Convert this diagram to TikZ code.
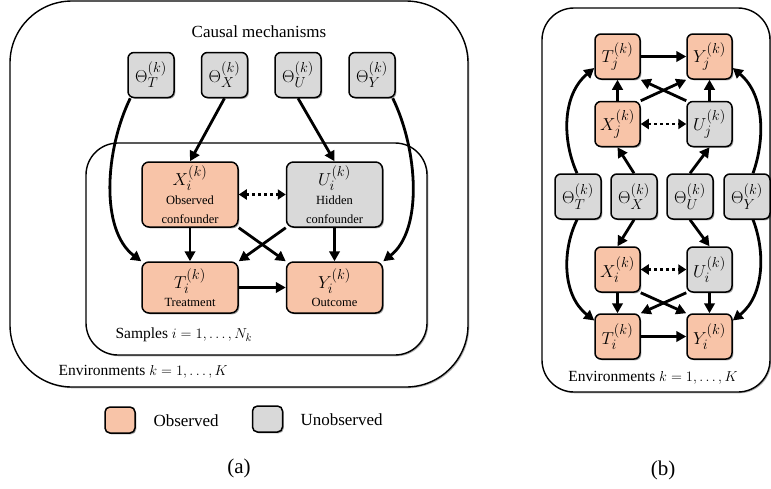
\documentclass[tikz,border=0pt]{standalone}
\usepackage{fontspec}
\setmainfont{Liberation Serif}
\usetikzlibrary{arrows.meta,shadows}
\definecolor{obsc}{RGB}{248,196,168}
\definecolor{unobc}{RGB}{217,217,217}
\newcommand{\smallf}{\fontsize{12.5}{14}\selectfont}
\begin{document}
\begin{tikzpicture}[x=1pt,y=-1pt,
 box/.style={draw=black, line width=1.5pt, rounded corners=7pt, inner sep=0pt, align=center,
   font=\fontsize{19}{21}\selectfont,
   drop shadow={shadow xshift=1.3pt, shadow yshift=-1.3pt, opacity=0.35, fill=black}},
 obs/.style={box, fill=obsc},
 unob/.style={box, fill=unobc},
 bigbox/.style={minimum width=96pt, minimum height=65pt},
 midbox/.style={minimum width=96pt, minimum height=51pt},
 smbox/.style={minimum width=46pt, minimum height=45pt, rounded corners=6pt},
 legbox/.style={minimum width=30pt, minimum height=26pt, rounded corners=5pt},
 arr/.style={line width=2.8pt, -{Triangle[length=10pt,width=10.5pt]}},
 darr/.style={line width=2.8pt, dash pattern=on 3pt off 3pt,
   {Triangle[length=8pt,width=10pt]}-{Triangle[length=8pt,width=10pt]}},
 frame/.style={draw, line width=1.4pt, fill=white,
   drop shadow={shadow xshift=1.3pt, shadow yshift=-1.3pt, opacity=0.3, fill=black}},
 lbl/.style={font=\fontsize{17}{20}\selectfont},
 envlbl/.style={font=\fontsize{15.5}{18}\selectfont},
 caplbl/.style={font=\fontsize{21}{24}\selectfont},
]
\useasboundingbox (0,0) rectangle (771,488);

% ---------------- panel (a) ----------------
\path[frame, rounded corners=62pt] (10,1) rectangle (468,387);
\path[frame, rounded corners=32pt] (86,143) rectangle (427,355);

\node[lbl] (cm) at (259,32) {Causal mechanisms};

\node[unob,smbox] (thT) at (151,75) {$\Theta_T^{(k)}$};
\node[unob,smbox] (thX) at (224.5,75) {$\Theta_X^{(k)}$};
\node[unob,smbox] (thU) at (298,75) {$\Theta_U^{(k)}$};
\node[unob,smbox] (thY) at (372,75) {$\Theta_Y^{(k)}$};

\node[obs,bigbox] (X) at (190,194.5) {$X_i^{(k)}$\\[-2pt]\smallf Observed\\[-2pt]\smallf confounder};
\node[unob,bigbox] (U) at (334.5,194.5) {$U_i^{(k)}$\\[-2pt]\smallf Hidden\\[-2pt]\smallf confounder};
\node[obs,midbox] (T) at (190,287.5) {$T_i^{(k)}$\\[-3pt]\smallf Treatment};
\node[obs,midbox] (Y) at (334.5,287.5) {$Y_i^{(k)}$\\[-3pt]\smallf Outcome};

\node[envlbl, anchor=west] (samp) at (112,335) {Samples $i=1,\dots,N_k$};
\node[envlbl, anchor=west] (enva) at (55,372) {Environments $k=1,\dots,K$};

\draw[arr] ([xshift=3pt]thT.south west) .. controls (105,150) and (100,230) .. (T.north west);
\draw[arr] ([xshift=-3pt]thY.south east) .. controls (418,150) and (423,230) .. (Y.north east);
\draw[arr] (thX.south) -- (X.north);
\draw[arr] (thU.south) -- (U.north);
\draw[arr] (X.south) -- (T.north);
\draw[arr] (U.south) -- (Y.north);
\draw[arr] (X.south east) -- (Y.north west);
\draw[arr] (U.south west) -- (T.north east);
\draw[arr] (T.east) -- (Y.west);
\draw[darr] (X.east) -- (U.west);

% legend
\node[obs,legbox] (lo) at (120,420) {};
\node[lbl, anchor=west] (lot) at (150,421) {Observed};
\node[unob,legbox] (lu) at (267.5,419) {};
\node[lbl, anchor=west] (lut) at (297,420) {Unobserved};
\node[caplbl] (capa) at (239,468) {(a)};

% ---------------- panel (b) ----------------
\path[frame, rounded corners=32pt] (542,8) rectangle (770,392);

\node[obs,smbox,minimum width=45pt] (Tj) at (617.5,56.5) {$T_j^{(k)}$};
\node[obs,smbox,minimum width=45pt] (Yj) at (709.5,56.5) {$Y_j^{(k)}$};
\node[obs,smbox,minimum width=45pt] (Xj) at (617.5,124) {$X_j^{(k)}$};
\node[unob,smbox,minimum width=45pt] (Uj) at (709.5,124) {$U_j^{(k)}$};

\node[unob,smbox] (bthT) at (578,196.5) {$\Theta_T^{(k)}$};
\node[unob,smbox] (bthX) at (634,196.5) {$\Theta_X^{(k)}$};
\node[unob,smbox] (bthU) at (690,196.5) {$\Theta_U^{(k)}$};
\node[unob,smbox] (bthY) at (747,196.5) {$\Theta_Y^{(k)}$};

\node[obs,smbox,minimum width=45pt] (Xi) at (617.5,269.5) {$X_i^{(k)}$};
\node[unob,smbox,minimum width=45pt] (Ui) at (709.5,269.5) {$U_i^{(k)}$};
\node[obs,smbox,minimum width=45pt] (Ti) at (617.5,336.5) {$T_i^{(k)}$};
\node[obs,smbox,minimum width=45pt] (Yi) at (709.5,336.5) {$Y_i^{(k)}$};

\node[envlbl] (envb) at (653,378) {Environments $k=1,\dots,K$};
\node[caplbl] (capb) at (663,470) {(b)};

% upper half
\draw[arr] ([xshift=-1pt]bthT.north) .. controls (562,140) and (562,95) .. ([yshift=-11.5pt]Tj.west);
\draw[arr] ([xshift=6pt]bthY.north) .. controls (765,140) and (765,95) .. ([yshift=-11.5pt]Yj.east);
\draw[arr] (bthX.north) -- (Xj.south);
\draw[arr] (bthU.north) -- (Uj.south);
\draw[arr] (Xj.north) -- (Tj.south);
\draw[arr] (Uj.north) -- (Yj.south);
\draw[arr] (Xj.north east) -- (Yj.south west);
\draw[arr] (Uj.north west) -- (Tj.south east);
\draw[arr] (Tj.east) -- (Yj.west);
\draw[darr] (Xj.east) -- (Uj.west);

% lower half
\draw[arr] ([xshift=-1pt]bthT.south) .. controls (562,250) and (562,295) .. ([yshift=16pt]Ti.west);
\draw[arr] ([xshift=6pt]bthY.south) .. controls (765,250) and (765,295) .. ([yshift=16pt]Yi.east);
\draw[arr] (bthX.south) -- (Xi.north);
\draw[arr] (bthU.south) -- (Ui.north);
\draw[arr] (Xi.south) -- (Ti.north);
\draw[arr] (Ui.south) -- (Yi.north);
\draw[arr] (Xi.south east) -- (Yi.north west);
\draw[arr] (Ui.south west) -- (Ti.north east);
\draw[arr] (Ti.east) -- (Yi.west);
\draw[darr] (Xi.east) -- (Ui.west);
\end{tikzpicture}
\end{document}
